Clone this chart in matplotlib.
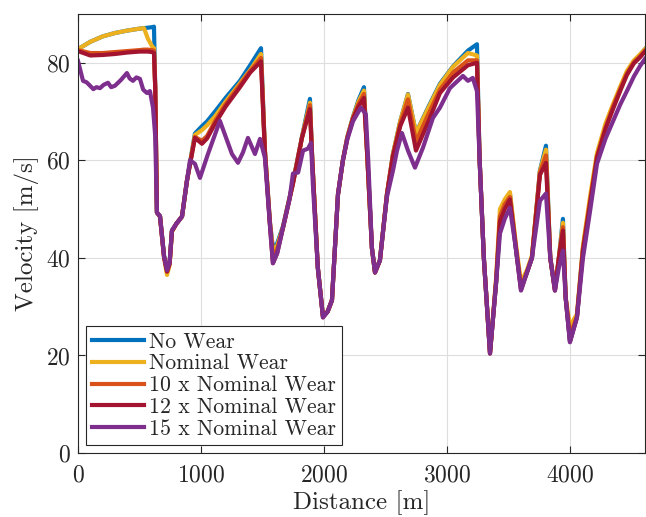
import matplotlib
matplotlib.use('Agg')
import matplotlib.pyplot as plt

# series labels and MATLAB default colours
labels = ['No Wear', 'Nominal Wear', '10 x Nominal Wear',
          '12 x Nominal Wear', '15 x Nominal Wear']
colors = ['#0072BD', '#EDB120', '#D95319', '#A2142F', '#7E2F8E']

# distance grid shared by the first four series [m]
dist = [0, 100, 200, 300, 400, 500, 537, 569, 602, 618, 628, 642, 667, 700,
        724, 745, 764, 800, 846, 886, 951, 1008, 1050, 1114, 1200, 1317,
        1400, 1488, 1520, 1560, 1585, 1620, 1667, 1748, 1821, 1886, 1905,
        1950, 1992, 2030, 2065, 2114, 2154, 2190, 2236, 2280, 2325, 2350,
        2390, 2415, 2455, 2512, 2561, 2620, 2683, 2748, 2850, 2943, 3050,
        3171, 3244, 3265, 3300, 3350, 3400, 3431, 3470, 3512, 3560, 3602,
        3650, 3691, 3756, 3805, 3840, 3878, 3910, 3943, 3965, 4000, 4057,
        4106, 4163, 4220, 4290, 4350, 4410, 4463, 4520, 4569, 4610]

v_none = [82.8, 84.3, 85.4, 86.1, 86.6, 87.0, 87.1, 87.2, 87.3, 87.4, 75.0,
          49.3, 48.6, 40.5, 37.4, 39.0, 45.6, 47.0, 48.5, 55.8, 65.5, 67.0,
          68.0, 70.0, 72.8, 76.3, 79.5, 83.0, 62.0, 47.5, 42.0, 43.0, 46.5,
          55.5, 64.8, 72.6, 60.0, 38.0, 28.0, 29.0, 31.3, 53.0, 60.0, 64.8,
          68.9, 72.3, 75.0, 62.0, 42.0, 37.2, 39.5, 53.0, 61.3, 68.0, 73.6,
          65.6, 71.0, 75.7, 79.3, 82.5, 83.8, 60.5, 40.0, 20.6, 35.0, 47.0,
          50.5, 53.2, 42.0, 34.0, 37.0, 40.0, 57.9, 63.0, 40.0, 33.6, 40.0,
          48.0, 31.9, 23.0, 28.0, 42.0, 51.5, 61.0, 67.0, 71.0, 74.8, 78.0,
          80.3, 81.6, 82.8]

v_nominal = [82.8, 84.3, 85.4, 86.1, 86.6, 87.0, 87.1, 84.9, 83.4, 83.0,
             75.0, 49.3, 48.4, 40.0, 36.5, 38.5, 45.3, 47.0, 48.5, 55.8,
             65.2, 66.2, 67.2, 69.0, 72.0, 75.8, 78.5, 81.8, 62.0, 47.5,
             41.5, 42.5, 46.3, 55.4, 64.7, 71.8, 60.0, 38.0, 28.0, 29.0,
             31.3, 53.0, 60.0, 64.8, 68.8, 72.0, 74.3, 62.0, 42.0, 37.0,
             39.5, 53.0, 61.3, 68.0, 73.5, 65.6, 70.8, 75.5, 79.2, 82.0,
             81.5, 60.5, 40.0, 20.5, 36.0, 50.0, 52.0, 53.5, 43.0, 35.0,
             37.5, 40.5, 57.8, 62.2, 40.0, 33.6, 40.0, 47.2, 32.0, 26.0,
             28.5, 42.5, 52.5, 61.5, 67.6, 71.5, 75.2, 78.3, 80.5, 81.7,
             82.8]

v_10x = [82.6, 82.0, 82.0, 82.2, 82.4, 82.6, 82.7, 82.7, 82.6, 82.5, 75.0,
         49.3, 48.5, 40.2, 37.2, 38.8, 45.5, 47.0, 48.5, 55.8, 64.8, 64.0,
         65.0, 68.0, 71.5, 75.5, 78.3, 81.0, 62.0, 47.5, 40.0, 41.8, 46.2,
         55.3, 64.6, 71.3, 60.0, 38.0, 28.0, 29.0, 31.3, 53.0, 60.0, 64.6,
         68.7, 71.5, 73.6, 62.0, 42.0, 37.0, 39.5, 53.0, 61.0, 67.5, 72.5,
         63.8, 69.5, 74.5, 78.0, 80.5, 80.5, 60.5, 40.0, 20.4, 35.5, 48.5,
         51.0, 52.5, 42.5, 34.0, 37.0, 40.0, 57.5, 61.0, 40.0, 33.4, 40.0,
         46.3, 31.9, 24.0, 28.0, 41.8, 51.5, 60.8, 66.8, 71.0, 74.7, 77.8,
         80.1, 81.3, 82.5]

v_12x = [82.4, 81.5, 81.6, 81.8, 82.1, 82.3, 82.3, 82.3, 82.2, 82.0, 75.0,
         49.3, 48.5, 40.2, 37.2, 38.8, 45.5, 47.0, 48.5, 55.8, 64.6, 63.4,
         64.5, 67.5, 71.0, 75.0, 78.0, 80.3, 61.5, 47.0, 38.9, 41.0, 46.2,
         55.2, 64.6, 70.5, 60.0, 38.0, 27.8, 29.0, 31.3, 53.0, 60.0, 64.5,
         68.5, 71.0, 72.8, 62.0, 42.0, 37.0, 39.5, 53.0, 60.8, 67.0, 70.8,
         62.0, 68.0, 73.8, 77.0, 79.5, 80.0, 60.5, 40.0, 20.4, 35.0, 47.5,
         50.0, 52.0, 42.0, 33.4, 37.0, 40.0, 57.0, 59.5, 40.0, 33.3, 40.0,
         45.6, 31.9, 22.8, 27.8, 41.5, 51.0, 60.5, 66.5, 70.5, 74.3, 77.5,
         79.9, 81.1, 82.3]

# 15 x nominal wear has its own (noisier) trace
dist_15x = [0, 41, 70, 98, 125, 150, 179, 210, 244, 270, 301, 350, 398, 420,
            447, 475, 504, 530, 561, 585, 610, 628, 642, 667, 700, 724, 745,
            764, 800, 846, 886, 911, 951, 992, 1057, 1154, 1252, 1301, 1341,
            1382, 1439, 1480, 1520, 1560, 1585, 1620, 1667, 1720, 1748, 1790,
            1830, 1870, 1895, 1910, 1950, 1992, 2030, 2065, 2114, 2154, 2190,
            2236, 2300, 2340, 2360, 2390, 2415, 2455, 2512, 2561, 2594, 2634,
            2683, 2740, 2805, 2886, 2943, 3024, 3130, 3171, 3210, 3244, 3265,
            3300, 3350, 3400, 3431, 3470, 3512, 3560, 3602, 3650, 3691, 3756,
            3805, 3840, 3878, 3910, 3943, 3965, 4000, 4057, 4106, 4163, 4220,
            4290, 4350, 4410, 4463, 4520, 4569, 4610]

v_15x = [80.4, 76.3, 76.0, 75.3, 74.6, 75.0, 74.8, 75.5, 75.9, 75.0, 75.3,
         76.5, 77.9, 76.8, 76.3, 77.0, 76.7, 74.5, 73.8, 74.2, 70.8, 65.0,
         49.3, 48.5, 40.2, 37.5, 39.0, 45.6, 47.0, 48.5, 55.8, 60.0, 59.3,
         56.4, 61.3, 68.1, 61.3, 59.5, 61.6, 64.6, 61.3, 64.4, 60.5, 47.0,
         38.9, 41.0, 46.2, 52.0, 57.3, 57.5, 62.0, 62.4, 63.6, 55.0, 38.0,
         27.8, 29.0, 31.3, 53.0, 60.0, 64.3, 68.0, 70.8, 69.5, 60.0, 42.0,
         37.0, 39.5, 52.5, 57.9, 62.0, 65.6, 62.0, 58.5, 62.6, 68.7, 70.8,
         74.8, 77.3, 76.3, 76.9, 74.2, 60.5, 40.0, 20.4, 35.0, 45.0, 48.0,
         50.3, 42.0, 33.3, 37.0, 40.0, 51.7, 53.2, 40.0, 33.3, 38.0, 41.5,
         31.9, 22.7, 27.8, 40.0, 49.5, 59.3, 64.5, 68.0, 71.5, 74.2, 77.2,
         79.3, 80.8]

xticks = [0, 1000, 2000, 3000, 4000]
yticks = [0, 20, 40, 60, 80]

plt.rcParams['font.family'] = 'serif'
plt.rcParams['font.serif'] = ['cmr10']
plt.rcParams['mathtext.fontset'] = 'cm'
plt.rcParams['axes.formatter.use_mathtext'] = True

axcol = '#262626'

fig = plt.figure(figsize=(6.46, 5.17), dpi=100)
ax = fig.add_axes([0.1207, 0.1238, 0.8777, 0.8491])

series = [(dist, v_none), (dist, v_nominal), (dist, v_10x), (dist, v_12x),
          (dist_15x, v_15x)]
for (xs, ys), lab, col in zip(series, labels, colors):
  ax.plot(xs, ys, color=col, lw=3.0, label=lab, solid_joinstyle='round')

ax.set_xlim(0, 4610)
ax.set_ylim(0, 90)
ax.set_xticks(xticks)
ax.set_yticks(yticks)
ax.grid(True, color='#dedede', lw=0.8)
ax.set_axisbelow(True)
ax.tick_params(direction='in', top=True, right=True, length=5, width=0.8,
               colors=axcol, labelsize=17, labelcolor=axcol)
ax.tick_params(axis='x', pad=8)
ax.tick_params(axis='y', pad=5)
for sp in ax.spines.values():
  sp.set_color(axcol)
  sp.set_linewidth(0.8)

ax.set_xlabel('Distance [m]', fontsize=18, color=axcol, labelpad=3)
ax.set_ylabel('Velocity [m/s]', fontsize=18, color=axcol, labelpad=5)

leg = ax.legend(loc='lower left', bbox_to_anchor=(0.014, 0.018),
                fontsize=15.7, handlelength=2.35, handletextpad=0.23,
                borderpad=0.3, labelspacing=0.1, fancybox=False,
                framealpha=1.0, borderaxespad=0.0)
leg.get_frame().set_edgecolor(axcol)
leg.get_frame().set_linewidth(0.8)
for t in leg.get_texts():
  t.set_color(axcol)

plt.savefig('out.png', dpi=100)
